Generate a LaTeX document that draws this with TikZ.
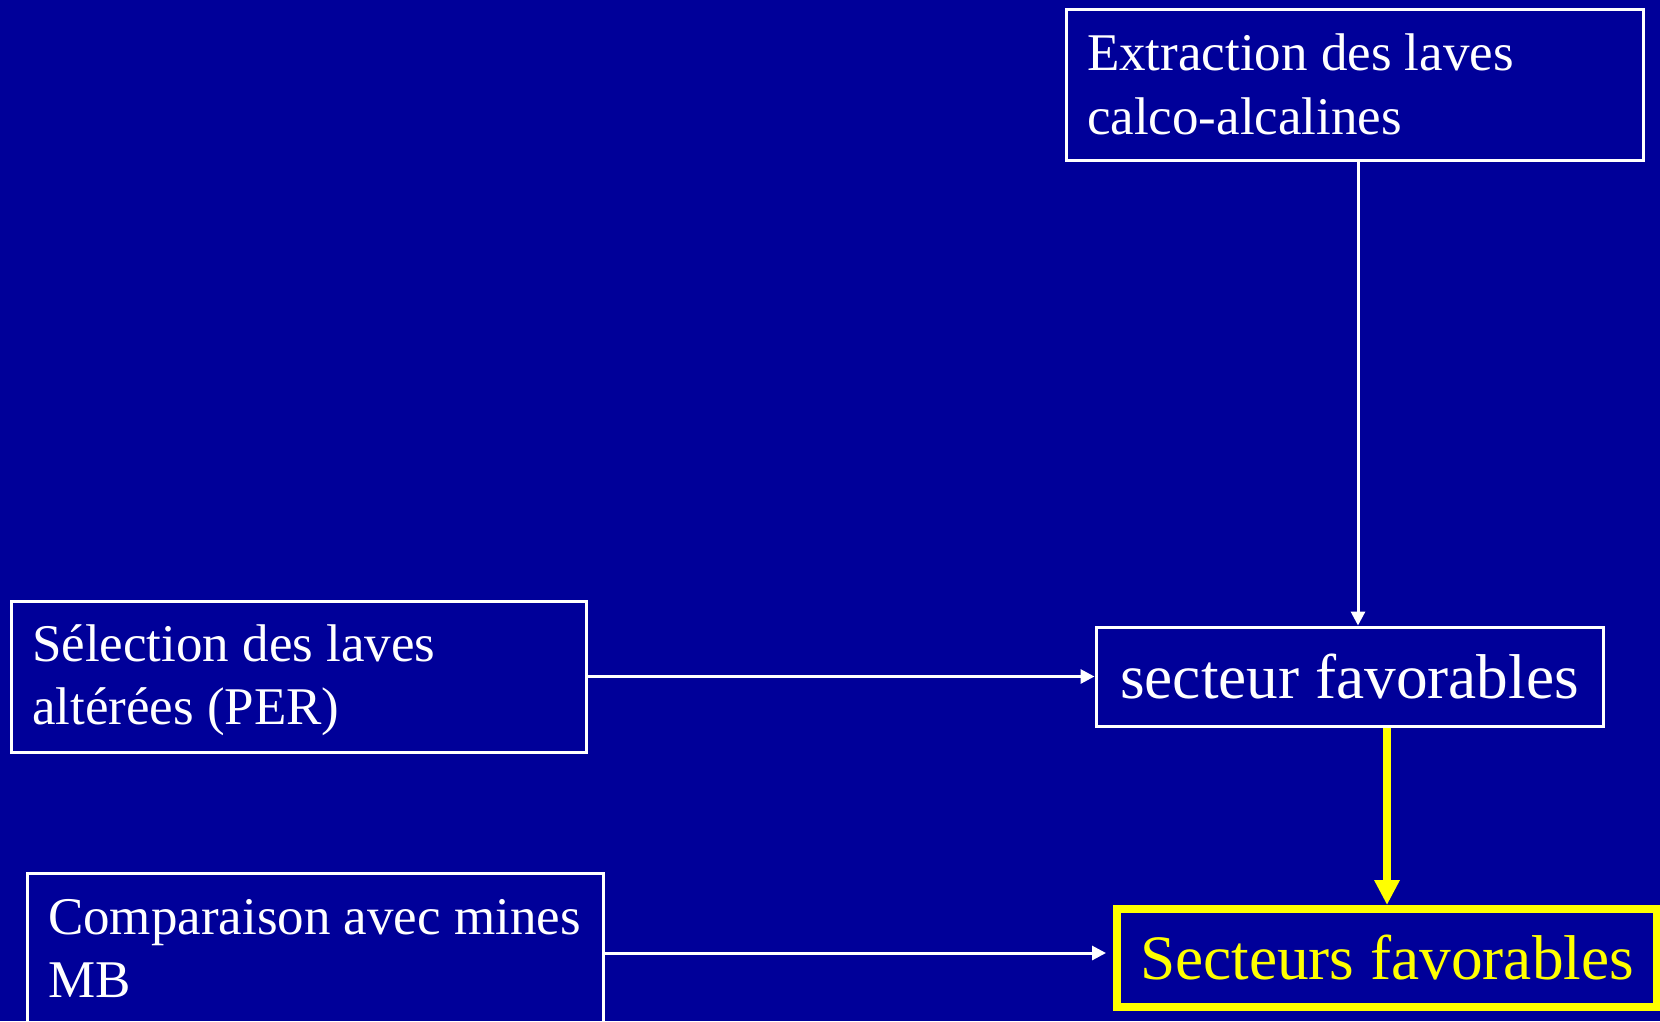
\documentclass[tikz,border=0pt]{standalone}
\usepackage{fontspec}
\setmainfont{Liberation Serif}
\usetikzlibrary{arrows.meta,calc}
\definecolor{bgblue}{RGB}{0,0,153}
\definecolor{yel}{RGB}{255,255,0}
\DeclareRobustCommand\smallfnt{\fontsize{53}{63.6}\selectfont}
\DeclareRobustCommand\bigfnt{\fontsize{63.3}{75}\selectfont}
\tikzset{
  box/.style={draw=white, line width=3pt, text=white, inner xsep=21pt, inner ysep=0pt,
    align=left, anchor=center, font=\smallfnt,
    execute at begin node={\spaceskip=0.25em\relax\xspaceskip=0.25em\relax}},
  bigbox/.style={draw=white, line width=3pt, text=white, inner sep=0pt, anchor=center,
    font=\bigfnt},
  wline/.style={draw=white, line width=3pt, -{Triangle[length=14pt,width=14pt]}},
  yline/.style={draw=yel, line width=8pt, -{Triangle[length=25pt,width=24pt]}}
}
\begin{document}
\begin{tikzpicture}[x=1pt,y=-1pt]
\fill[bgblue] (0,0) rectangle (1660,1021);
\useasboundingbox (0,0) rectangle (1660,1021);
\node[box, text width=535pt, minimum width=577pt, minimum height=151pt] (ext) at (1354.5,84.5)
  {Extraction des laves\\calco-alcalines};
\node[bigbox, minimum width=507pt, minimum height=99pt] (sec) at (1349.5,676.5)
  {secteur favorables};
\node[box, text width=533pt, minimum width=575pt, minimum height=151pt] (sel) at (298.5,676.5)
  {\rule{0pt}{44pt}Sélection des laves\\altérées (PER)};
\node[box, text width=534pt, minimum width=576pt, minimum height=151pt] (comp) at (315,948.5)
  {Comparaison avec mines\\MB};
\node[bigbox, draw=yel, text=yel, line width=8pt, minimum width=540pt, minimum height=98pt] (sects) at (1387,958)
  {Secteurs favorables};
\coordinate (ax) at (1358,0);
\coordinate (ay) at (0,953);
\draw[wline] (ext.south -| ax) -- (sec.north -| ax);
\draw[wline] (sel.east) -- (sec.west);
\draw[yline] (sects.north |- sec.south) -- (sects.north);
\draw[wline, shorten >=7pt] (comp.east |- ay) -- (sects.west |- ay);
\end{tikzpicture}
\end{document}
